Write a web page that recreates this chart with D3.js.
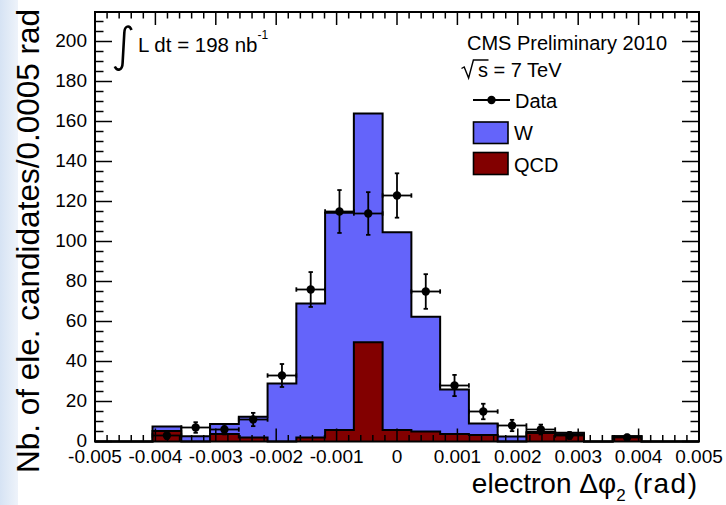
<!DOCTYPE html>
<html>
<head>
<meta charset="utf-8">
<script src="https://cdn.jsdelivr.net/npm/d3@7"></script>
<style>
  html, body { margin: 0; padding: 0; background: #fff; }
  svg { display: block; }
  text { font-family: "Liberation Sans", Arial, Helvetica, sans-serif; fill: #000; }
</style>
</head>
<body>
<svg id="chart" width="726" height="505"></svg>
<script>
// Electron delta-phi distribution: 21 bins over [-0.005, 0.005] rad
const nBins = 21;
const phiRange = [-0.005, 0.005];

// Stacked simulation, per bin (bottom layer first)
const qcdCounts = [0, 0, 5.3, 0, 3.8, 2, 0, 2, 5.7, 49.6, 5.7, 5, 3.8, 3.2, 0, 4.2, 3.6, 0, 2.6, 0, 0];
const wCounts   = [0, 0, 2.2, 2.6, 4.9, 10.4, 29, 67, 108.7, 114.4, 98.9, 57.4, 22.2, 5.8, 2.5, 0.6, 0.8, 0, 0, 0, 0];

// Observed candidates per bin
const dataCounts = [0, 0, 3, 7, 6, 11, 33, 76, 115, 114, 123, 75, 28, 15, 8, 6, 3, 0, 2, 0, 0];

const xTickValues = [-0.005, -0.004, -0.003, -0.002, -0.001, 0, 0.001, 0.002, 0.003, 0.004, 0.005];
const xTickLabels = ["-0.005", "-0.004", "-0.003", "-0.002", "-0.001", "0", "0.001", "0.002", "0.003", "0.004", "0.005"];
const yTickValues = [0, 20, 40, 60, 80, 100, 120, 140, 160, 180, 200];
const yTickLabels = ["0", "20", "40", "60", "80", "100", "120", "140", "160", "180", "200"];

const colorW = "#6464fa";
const colorQCD = "#820000";

const svg = d3.select("#chart");

// soft blue strip along the left edge of the page
const defs = svg.append("defs");
const grad = defs.append("linearGradient").attr("id", "edge").attr("x1", 0).attr("x2", 1).attr("y1", 0).attr("y2", 0);
grad.append("stop").attr("offset", "0%").attr("stop-color", "#d6e3f4");
grad.append("stop").attr("offset", "100%").attr("stop-color", "#eef3fa");
svg.append("rect").attr("x", 0).attr("y", 0).attr("width", 18).attr("height", 505).attr("fill", "url(#edge)");

const frame = { left: 95, right: 699, top: 12, bottom: 441.5 };
const x = d3.scaleLinear().domain(phiRange).range([frame.left, frame.right]);
const y = d3.scaleLinear().domain([0, 214.75]).range([frame.bottom, frame.top]);

const binWidth = (phiRange[1] - phiRange[0]) / nBins;
const edges = d3.range(nBins + 1).map(i => phiRange[0] + i * binWidth);

const totalCounts = wCounts.map((w, i) => w + qcdCounts[i]);

function stepPoints(vals) {
  const pts = [[edges[0], 0]];
  vals.forEach((v, i) => { pts.push([edges[i], v]); pts.push([edges[i + 1], v]); });
  pts.push([edges[nBins], 0]);
  return pts;
}

const area = d3.area().x(d => x(d[0])).y0(y(0)).y1(d => y(d[1]));
const line = d3.line().x(d => x(d[0])).y(d => y(d[1]));

const hist = svg.append("g");
// stacked total (W on top of QCD)
const totPts = stepPoints(totalCounts);
hist.append("path").attr("d", area(totPts)).attr("fill", colorW);
hist.append("path").attr("d", line(totPts)).attr("fill", "none").attr("stroke", "#000").attr("stroke-width", 2);
// QCD layer
const qcdPts = stepPoints(qcdCounts);
hist.append("path").attr("d", area(qcdPts)).attr("fill", colorQCD);
hist.append("path").attr("d", line(qcdPts)).attr("fill", "none").attr("stroke", "#000").attr("stroke-width", 2);

// data points with Poisson errors and bin-width horizontal bars
const cap = 2.2;
const dataG = svg.append("g").attr("stroke", "#000").attr("stroke-width", 1.8);
dataCounts.forEach((n, i) => {
  if (n <= 0) return;
  const cx = x((edges[i] + edges[i + 1]) / 2);
  const cy = y(n);
  const e = Math.sqrt(n);
  const x0 = x(edges[i]), x1 = x(edges[i + 1]);
  const yLo = y(Math.max(0, n - e)), yHi = y(n + e);
  dataG.append("line").attr("x1", x0).attr("x2", x1).attr("y1", cy).attr("y2", cy);
  dataG.append("line").attr("x1", cx).attr("x2", cx).attr("y1", yLo).attr("y2", yHi);
  dataG.append("line").attr("x1", cx - cap).attr("x2", cx + cap).attr("y1", yHi).attr("y2", yHi);
  dataG.append("line").attr("x1", cx - cap).attr("x2", cx + cap).attr("y1", yLo).attr("y2", yLo);
  dataG.append("line").attr("x1", x0).attr("x2", x0).attr("y1", cy - cap).attr("y2", cy + cap);
  dataG.append("line").attr("x1", x1).attr("x2", x1).attr("y1", cy - cap).attr("y2", cy + cap);
  svg.append("circle").attr("cx", cx).attr("cy", cy).attr("r", 4.2).attr("fill", "#000");
});

// ticks on all four sides, pointing into the frame
const axes = svg.append("g").attr("stroke", "#000").attr("stroke-width", 1.5);
const xMinor = d3.range(-25, 26).map(k => k * 0.0002);
xMinor.forEach(v => {
  const major = xTickValues.some(t => Math.abs(t - v) < 1e-9);
  const len = major ? 13 : 6.5;
  axes.append("line").attr("x1", x(v)).attr("x2", x(v)).attr("y1", frame.bottom).attr("y2", frame.bottom - len);
  axes.append("line").attr("x1", x(v)).attr("x2", x(v)).attr("y1", frame.top).attr("y2", frame.top + len);
});
const yMinor = d3.range(0, 215, 5);
yMinor.forEach(v => {
  const major = yTickValues.includes(v);
  const len = major ? 17 : 8.5;
  axes.append("line").attr("x1", frame.left).attr("x2", frame.left + len).attr("y1", y(v)).attr("y2", y(v));
  axes.append("line").attr("x1", frame.right).attr("x2", frame.right - len).attr("y1", y(v)).attr("y2", y(v));
});

svg.append("rect")
  .attr("x", frame.left).attr("y", frame.top)
  .attr("width", frame.right - frame.left).attr("height", frame.bottom - frame.top)
  .attr("fill", "none").attr("stroke", "#000").attr("stroke-width", 2);

// tick labels
svg.append("g").selectAll("text").data(xTickValues).join("text")
  .attr("x", d => x(d)).attr("y", 462.5)
  .attr("text-anchor", "middle").attr("font-size", 19)
  .text((d, i) => xTickLabels[i]);
svg.append("g").selectAll("text").data(yTickValues).join("text")
  .attr("x", 87).attr("y", d => y(d)).attr("dy", "0.28em")
  .attr("text-anchor", "end").attr("font-size", 19)
  .text((d, i) => yTickLabels[i]);

// axis titles
svg.append("text")
  .attr("transform", "translate(39,241) rotate(-90)")
  .attr("text-anchor", "middle").attr("font-size", 31.5)
  .text("Nb. of ele. candidates/0.0005 rad");

const xTitle = svg.append("text").attr("x", 697).attr("y", 493)
  .attr("text-anchor", "end").attr("font-size", 28);
xTitle.append("tspan").text("electron \u0394\u03c6");
xTitle.append("tspan").attr("font-size", 17).attr("dy", 8).text("2");
xTitle.append("tspan").attr("dy", -8).text(" (");
xTitle.append("tspan").attr("letter-spacing", 1.5).text("rad");
xTitle.append("tspan").text(")");

// luminosity label with an integral sign
svg.append("path")
  .attr("d", "M131.5,30 C129.5,24.5 124.5,25.5 124.3,33 L122.6,63 C122.4,70.5 117.2,71.5 114.8,66.5")
  .attr("fill", "none").attr("stroke", "#000").attr("stroke-width", 2.6);
const lumi = svg.append("text").attr("x", 138).attr("y", 51.5).attr("font-size", 20.5);
lumi.append("tspan").text("L dt = 198 nb");
lumi.append("tspan").attr("font-size", 12).attr("dy", -13).text("-1");

svg.append("text").attr("x", 467).attr("y", 50).attr("font-size", 20).text("CMS Preliminary 2010");
svg.append("path")
  .attr("d", "M461.5,68.5 L464.2,67 L468.6,78 L473.4,60 L488.5,60")
  .attr("fill", "none").attr("stroke", "#000").attr("stroke-width", 1.4);
svg.append("text").attr("x", 478).attr("y", 77).attr("font-size", 20).text("s = 7 TeV");

// legend
const leg = svg.append("g");
leg.append("line").attr("x1", 473).attr("x2", 510).attr("y1", 100).attr("y2", 100).attr("stroke", "#000").attr("stroke-width", 2);
leg.append("circle").attr("cx", 491.5).attr("cy", 100).attr("r", 4.2).attr("fill", "#000");
leg.append("text").attr("x", 515).attr("y", 108).attr("font-size", 20).text("Data");
leg.append("rect").attr("x", 473.5).attr("y", 122).attr("width", 34.5).attr("height", 21.5)
  .attr("fill", colorW).attr("stroke", "#000").attr("stroke-width", 1.6);
leg.append("text").attr("x", 514).attr("y", 140).attr("font-size", 20).text("W");
leg.append("rect").attr("x", 473.5).attr("y", 152.5).attr("width", 34.5).attr("height", 22)
  .attr("fill", colorQCD).attr("stroke", "#000").attr("stroke-width", 1.6);
leg.append("text").attr("x", 514).attr("y", 171.5).attr("font-size", 20).text("QCD");
</script>
</body>
</html>
